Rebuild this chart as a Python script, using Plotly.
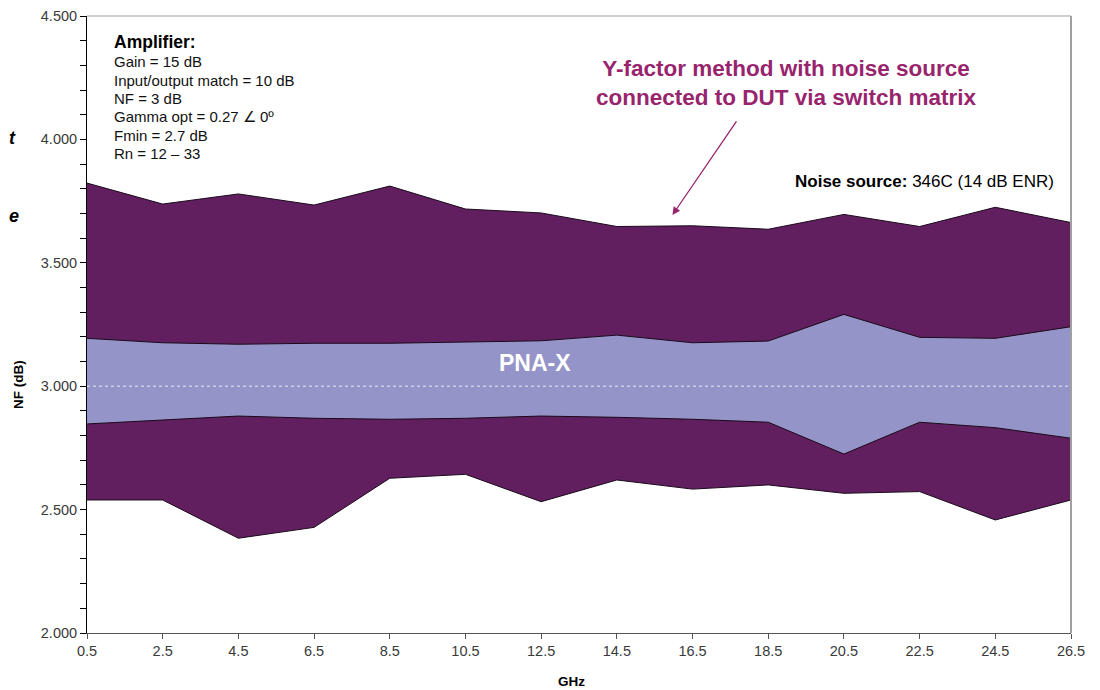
import plotly.graph_objects as go

freq_ghz = [0.5, 2.5, 4.5, 6.5, 8.5, 10.5, 12.5, 14.5, 16.5, 18.5, 20.5, 22.5, 24.5, 26.5]
yfactor_upper = [3.823, 3.738, 3.779, 3.734, 3.811, 3.718, 3.702, 3.647, 3.650, 3.636, 3.696, 3.647, 3.725, 3.663]
yfactor_lower = [2.539, 2.539, 2.384, 2.428, 2.627, 2.643, 2.532, 2.620, 2.583, 2.600, 2.566, 2.573, 2.458, 2.539]
pnax_upper = [3.194, 3.176, 3.170, 3.174, 3.174, 3.180, 3.184, 3.207, 3.176, 3.183, 3.291, 3.198, 3.194, 3.241]
pnax_lower = [2.847, 2.863, 2.879, 2.870, 2.866, 2.870, 2.879, 2.874, 2.866, 2.854, 2.725, 2.854, 2.832, 2.789]
ref_nf = 3.0
x_ticks = [0.5, 2.5, 4.5, 6.5, 8.5, 10.5, 12.5, 14.5, 16.5, 18.5, 20.5, 22.5, 24.5, 26.5]
y_ticks = [2.0, 2.5, 3.0, 3.5, 4.0, 4.5]

DARK = "#621F60"
LIGHT = "#9494C8"
MAGENTA = "#98246E"
FONT = "Liberation Sans, Arial, sans-serif"

fig = go.Figure()
fig.add_trace(go.Scatter(x=freq_ghz, y=yfactor_lower, mode="lines",
                         line=dict(color="#1a0a1a", width=1), hoverinfo="skip"))
fig.add_trace(go.Scatter(x=freq_ghz, y=yfactor_upper, mode="lines", fill="tonexty",
                         fillcolor=DARK, line=dict(color="#1a0a1a", width=1), hoverinfo="skip"))
fig.add_trace(go.Scatter(x=freq_ghz, y=pnax_lower, mode="lines",
                         line=dict(color="#1a0a1a", width=1), hoverinfo="skip"))
fig.add_trace(go.Scatter(x=freq_ghz, y=pnax_upper, mode="lines", fill="tonexty",
                         fillcolor=LIGHT, line=dict(color="#1a0a1a", width=1), hoverinfo="skip"))

fig.add_shape(type="line", xref="x", yref="y", x0=freq_ghz[0], x1=freq_ghz[-1],
              y0=ref_nf, y1=ref_nf, line=dict(color="#E8E8F4", width=1, dash="dot"), layer="above")

# plot box top/right borders
fig.add_shape(type="line", xref="paper", yref="paper", x0=0, x1=1, y0=1, y1=1,
              line=dict(color="#A0A0A0", width=1), layer="above")
fig.add_shape(type="line", xref="paper", yref="paper", x0=1, x1=1, y0=0, y1=1,
              line=dict(color="#A0A0A0", width=2), layer="above")

# page is rendered with an 8px body margin
OFF = 8
PL, PR, PT, PB = 87, 1071, 16, 633   # plot area in page pixels
W, H = 1100 - OFF, 690 - OFF
L = PL - OFF
T = PT - OFF
R = W - (PR - OFF)
B = H - (PB - OFF)


def px(xp):
    return (xp - PL) / (PR - PL)


def py(yp):
    return (PB - yp) / (PB - PT)


ann = []
ann.append(dict(text="<b>Amplifier:</b>", x=px(112), y=py(42), xref="paper", yref="paper",
                xanchor="left", yanchor="middle", showarrow=False,
                font=dict(family=FONT, size=17.5, color="#000000")))
amp_lines = ["Gain = 15 dB", "Input/output match = 10 dB", "NF = 3 dB",
             "Gamma opt = 0.27 ∠ 0º", "Fmin = 2.7 dB", "Rn = 12 – 33"]
for i, t in enumerate(amp_lines):
    ann.append(dict(text=t, x=px(112), y=py(62 + i * 18.3), xref="paper", yref="paper",
                    xanchor="left", yanchor="middle", showarrow=False,
                    font=dict(family=FONT, size=15, color="#111111")))
ann.append(dict(text="<b>Y-factor method with noise source<br>connected to DUT via switch matrix</b>",
                x=px(786), y=py(83), xref="paper", yref="paper", xanchor="center", yanchor="middle",
                showarrow=False, align="center",
                font=dict(family=FONT, size=22.5, color=MAGENTA)))
ann.append(dict(text="", x=15.97, y=3.694, xref="x", yref="y", ax=65, ay=-95,
                showarrow=True, arrowhead=2, arrowsize=1.2, arrowwidth=1.3, arrowcolor=MAGENTA))
ann.append(dict(text="<b>Noise source:</b> 346C (14 dB ENR)", x=px(1056), y=py(181),
                xref="paper", yref="paper", xanchor="right", yanchor="middle", showarrow=False,
                font=dict(family=FONT, size=17, color="#000000")))
ann.append(dict(text="<b>PNA-X</b>", x=px(535), y=py(363), xref="paper", yref="paper",
                xanchor="center", yanchor="middle", showarrow=False,
                font=dict(family=FONT, size=23, color="#FFFFFF")))
ann.append(dict(text="<b>NF (dB)</b>", x=px(18), y=py(385), xref="paper", yref="paper",
                xanchor="center", yanchor="middle", showarrow=False, textangle=-90,
                font=dict(family=FONT, size=13.5, color="#000000")))
ann.append(dict(text="<b>GHz</b>", x=px(571), y=py(681), xref="paper", yref="paper",
                xanchor="center", yanchor="middle", showarrow=False,
                font=dict(family=FONT, size=13.5, color="#000000")))
ann.append(dict(text="<b><i>t</i></b>", x=px(7), y=py(138), xref="paper", yref="paper",
                xanchor="left", yanchor="middle", showarrow=False,
                font=dict(family=FONT, size=18, color="#000000")))
ann.append(dict(text="<b><i>e</i></b>", x=px(7), y=py(216), xref="paper", yref="paper",
                xanchor="left", yanchor="middle", showarrow=False,
                font=dict(family=FONT, size=18, color="#000000")))

fig.update_layout(
    width=W, height=H,
    margin=dict(l=L, r=R, t=T, b=B, pad=0, autoexpand=False),
    paper_bgcolor="white", plot_bgcolor="white",
    showlegend=False,
    annotations=ann,
    font=dict(family=FONT, size=14, color="#333333"),
    xaxis=dict(range=[freq_ghz[0], freq_ghz[-1]], tickvals=x_ticks, ticktext=[str(v) for v in x_ticks],
               showgrid=False, zeroline=False, showline=True, linecolor="#555555", linewidth=1,
               ticks="outside", ticklen=5, tickcolor="#555555", automargin=False,
               tickfont=dict(family=FONT, size=14.5, color="#3a3a3a")),
    yaxis=dict(range=[y_ticks[0], y_ticks[-1]], tickvals=y_ticks, tickformat=".3f",
               showgrid=False, zeroline=False, showline=True, linecolor="#000000", linewidth=1,
               ticks="outside", ticklen=6, tickcolor="#000000", automargin=False,
               minor=dict(dtick=0.1, ticks="outside", ticklen=6, tickcolor="#000000", showgrid=False),
               tickfont=dict(family=FONT, size=14.5, color="#3a3a3a")),
)

fig.write_html("out.html")
